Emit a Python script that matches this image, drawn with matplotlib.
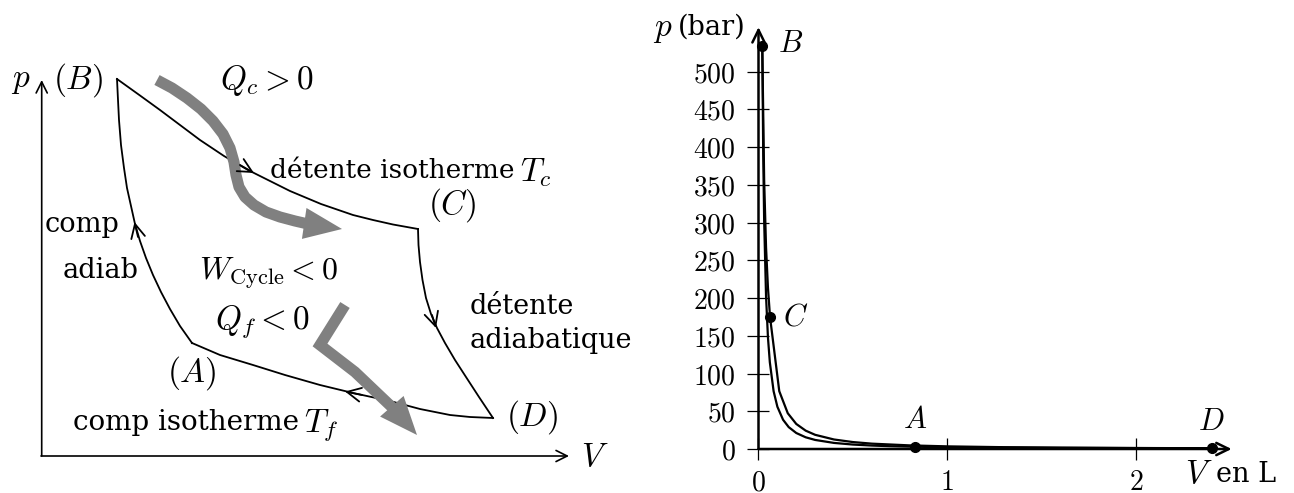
import matplotlib
matplotlib.use("Agg")
import matplotlib.pyplot as plt

plt.rcParams["font.family"] = ["DejaVu Serif"]
plt.rcParams["mathtext.fontset"] = "cm"

# ---------- left panel: schematic Carnot cycle (arbitrary units) ----------
bc_v = [117, 140, 160, 180, 200, 224, 248, 270, 290, 321, 353, 373, 393, 418]
bc_p = [414, 397.5, 383, 368, 353, 337, 323, 312, 302, 289, 278, 273, 268.5, 264]
cd_v = [418, 418.5, 420, 422.5, 426, 431, 437, 445, 455, 466, 479, 493]
cd_p = [264, 248, 231, 213, 195, 179, 165, 150, 133, 116, 96, 75]
da_v = [493, 470, 450, 420, 390, 353, 320, 285, 253, 220, 192]
da_p = [75, 76, 78, 84, 92, 100, 108, 118, 128, 138, 150]
ab_v = [192, 180, 170, 161, 153, 146, 140, 135, 131, 127, 124, 121, 119, 118, 117]
ab_p = [150, 167, 184, 201, 218, 235, 252, 269, 287, 305, 325, 348, 373, 393, 414]

# heat-flow arrows (thick grey)
qc_v = [157, 172, 187, 201, 213, 223, 230, 234, 236, 239, 245, 254, 266, 280, 295, 308]
qc_p = [413, 405, 395, 384, 372, 359, 345, 331, 318, 306, 296, 288, 281, 276, 272, 269]
qc_tip = (342, 264)
qf_v = [345, 320, 355, 396]
qf_p = [188, 148, 121, 82]
qf_tip = (417, 58)

# ---------- right panel: computed cycle, p in bar, V in L ----------
outer_v = [0.02, 0.03, 0.04, 0.05, 0.061, 0.11, 0.155, 0.2, 0.25, 0.3, 0.4,
           0.5, 0.6, 0.8, 1.0, 1.3, 1.6, 2.0, 2.4]
outer_p = [534, 356, 267, 214, 175, 76.6, 47.4, 33.2, 24.3, 18.8, 12.6,
           9.2, 7.1, 4.8, 3.5, 2.4, 1.8, 1.3, 1.0]
inner_v = [0.02, 0.025, 0.03, 0.04, 0.05, 0.06, 0.08, 0.1, 0.13, 0.16, 0.2,
           0.25, 0.3, 0.4, 0.5, 0.6, 0.7, 0.83]
inner_p = [534, 390, 302, 202, 148, 115, 76.6, 56.0, 38.8, 29.0, 21.2,
           15.5, 12.0, 8.05, 5.89, 4.56, 3.68, 2.95]
iso_v = [2.4, 2.0, 1.6, 1.2, 1.0, 0.83]
iso_p = [1.02, 1.23, 1.53, 2.04, 2.45, 2.95]

pt_names = ["A", "B", "C", "D"]
pt_v = [0.83, 0.02, 0.061, 2.4]
pt_p = [2.95, 534, 175, 1.02]

x_ticks = [0, 1, 2]
y_ticks = [0, 50, 100, 150, 200, 250, 300, 350, 400, 450, 500]

W, H = 1294, 493
fig = plt.figure(figsize=(W / 100, H / 100), dpi=100)

# ======================= left schematic =======================
ax1 = fig.add_axes([0, 0, 650 / W, 1])
ax1.set_xlim(0, 650)
ax1.set_ylim(0, H)
ax1.axis("off")

for xs, ys in [(bc_v, bc_p), (cd_v, cd_p), (da_v, da_p), (ab_v, ab_p)]:
    ax1.plot(xs, ys, color="black", lw=1.3, solid_joinstyle="round")

thin = dict(arrowstyle="->,head_length=0.5,head_width=0.25", lw=1.3,
            color="black", shrinkA=0, shrinkB=0, mutation_scale=20)
ax1.annotate("", xy=(254, 320), xytext=(240, 328), arrowprops=thin)
ax1.annotate("", xy=(134.5, 271), xytext=(138, 256), arrowprops=thin)
ax1.annotate("", xy=(436, 165), xytext=(432, 178), arrowprops=thin)
ax1.annotate("", xy=(345, 101.5), xytext=(362, 98), arrowprops=thin)

# axes of the schematic
axis_arrow = dict(arrowstyle="->,head_length=0.4,head_width=0.2", lw=1.2,
                  color="black", shrinkA=0, shrinkB=0, mutation_scale=20)
ax1.annotate("", xy=(41.7, 413), xytext=(41.7, 37), arrowprops=axis_arrow)
ax1.annotate("", xy=(569, 37), xytext=(41, 37), arrowprops=axis_arrow)

grey = "#808080"
head = dict(arrowstyle="-|>,head_length=1.1,head_width=0.45", mutation_scale=25,
            fc=grey, ec="none", lw=0, shrinkA=0, shrinkB=0)
ax1.plot(qc_v, qc_p, color=grey, lw=8, solid_capstyle="butt",
         solid_joinstyle="round")
ax1.annotate("", xy=qc_tip, xytext=(qc_v[-1], qc_p[-1]), arrowprops=head)
ax1.plot(qf_v, qf_p, color=grey, lw=8, solid_capstyle="butt",
         solid_joinstyle="miter")
ax1.annotate("", xy=qf_tip, xytext=(qf_v[-1], qf_p[-1]), arrowprops=head)

fs = 19.5   # text
ms = 24     # math
ax1.text(21, 413, "$p$", fontsize=ms, ha="center", va="center")
ax1.text(78, 413, "$(B)$", fontsize=ms, ha="center", va="center")
ax1.text(267, 413, "$Q_c > 0$", fontsize=ms, ha="center", va="center")
ax1.text(515, 323, "détente isotherme", fontsize=19, ha="right", va="center")
ax1.text(520, 320, "$T_c$", fontsize=ms, ha="left", va="center")
ax1.text(452, 288, "$(C)$", fontsize=ms, ha="center", va="center")
ax1.text(82, 268, "comp", fontsize=fs, ha="center", va="center")
ax1.text(101, 223, "adiab", fontsize=fs, ha="center", va="center")
ax1.text(268, 220, r"$W_{\mathrm{Cycle}} < 0$", fontsize=23, ha="center", va="center")
ax1.text(262, 171, "$Q_f < 0$", fontsize=ms, ha="center", va="center")
ax1.text(470, 186, "détente", fontsize=fs, ha="left", va="center")
ax1.text(470, 153, "adiabatique", fontsize=fs, ha="left", va="center")
ax1.text(192, 120, "$(A)$", fontsize=ms, ha="center", va="center")
ax1.text(532, 76, "$(D)$", fontsize=ms, ha="center", va="center")
ax1.text(299, 71, "comp isotherme", fontsize=20, ha="right", va="center")
ax1.text(304, 68, "$T_f$", fontsize=ms, ha="left", va="center")
ax1.text(595, 36, "$V$", fontsize=ms, ha="center", va="center")

# ======================= right plot =======================
x0_px, px_per_L = 758.5, 188.8
y0_px, px_per_bar = 449, 0.7547
xlim = (-0.1, 2.6)
ylim = (-20, 575)
rect = [(x0_px + xlim[0] * px_per_L) / W,
        (H - y0_px + ylim[0] * px_per_bar) / H,
        (xlim[1] - xlim[0]) * px_per_L / W,
        (ylim[1] - ylim[0]) * px_per_bar / H]
ax2 = fig.add_axes(rect)
ax2.set_xlim(*xlim)
ax2.set_ylim(*ylim)
ax2.patch.set_alpha(0)

for s in ["top", "right"]:
    ax2.spines[s].set_visible(False)
ax2.spines["left"].set_position(("data", 0))
ax2.spines["bottom"].set_position(("data", 0))
ax2.spines["left"].set_color("none")
ax2.spines["bottom"].set_color("none")

ax2.set_xticks(x_ticks)
ax2.set_xticklabels([f"${t}$" for t in x_ticks])
ax2.set_yticks(y_ticks)
ax2.set_yticklabels([f"${t}$" for t in y_ticks])
ax2.tick_params(direction="inout", length=16, width=0.9, labelsize=20)
ax2.tick_params(axis="y", pad=8.5)
ax2.tick_params(axis="x", pad=6.5)

arr = dict(arrowstyle="->,head_length=0.45,head_width=0.22", lw=1.8,
           color="black", shrinkA=0, shrinkB=0, mutation_scale=20)
ax2.annotate("", xy=(0, 559), xytext=(0, 0), arrowprops=arr)
ax2.annotate("", xy=(2.506, 0), xytext=(0, 0), arrowprops=arr)

ax2.plot(outer_v, outer_p, color="black", lw=1.6, clip_on=False)
ax2.plot(inner_v, inner_p, color="black", lw=1.6, clip_on=False)
ax2.plot(iso_v, iso_p, color="black", lw=1.6, clip_on=False)
ax2.plot(pt_v, pt_p, "o", color="black", ms=7, zorder=5, clip_on=False)

offsets = {"A": (0, 27), "B": (28, 2), "C": (26, 0), "D": (0, 27)}
for name, v, p in zip(pt_names, pt_v, pt_p):
    ax2.annotate(f"${name}$", xy=(v, p), xytext=offsets[name],
                 textcoords="offset pixels", fontsize=22,
                 ha="center", va="center")

ax2.annotate("$p$", xy=(0, 559), xytext=(-96, -2), textcoords="offset pixels",
             fontsize=ms, ha="center", va="center")
ax2.annotate("(bar)", xy=(0, 559), xytext=(-81, 0), textcoords="offset pixels",
             fontsize=fs, ha="left", va="center")
ax2.annotate("$V$", xy=(2.506, 0), xytext=(-33, -25), textcoords="offset pixels",
             fontsize=ms, ha="center", va="center")
ax2.annotate("en L", xy=(2.506, 0), xytext=(-16, -25), textcoords="offset pixels",
             fontsize=fs, ha="left", va="center")

fig.savefig("out.png", dpi=100)
